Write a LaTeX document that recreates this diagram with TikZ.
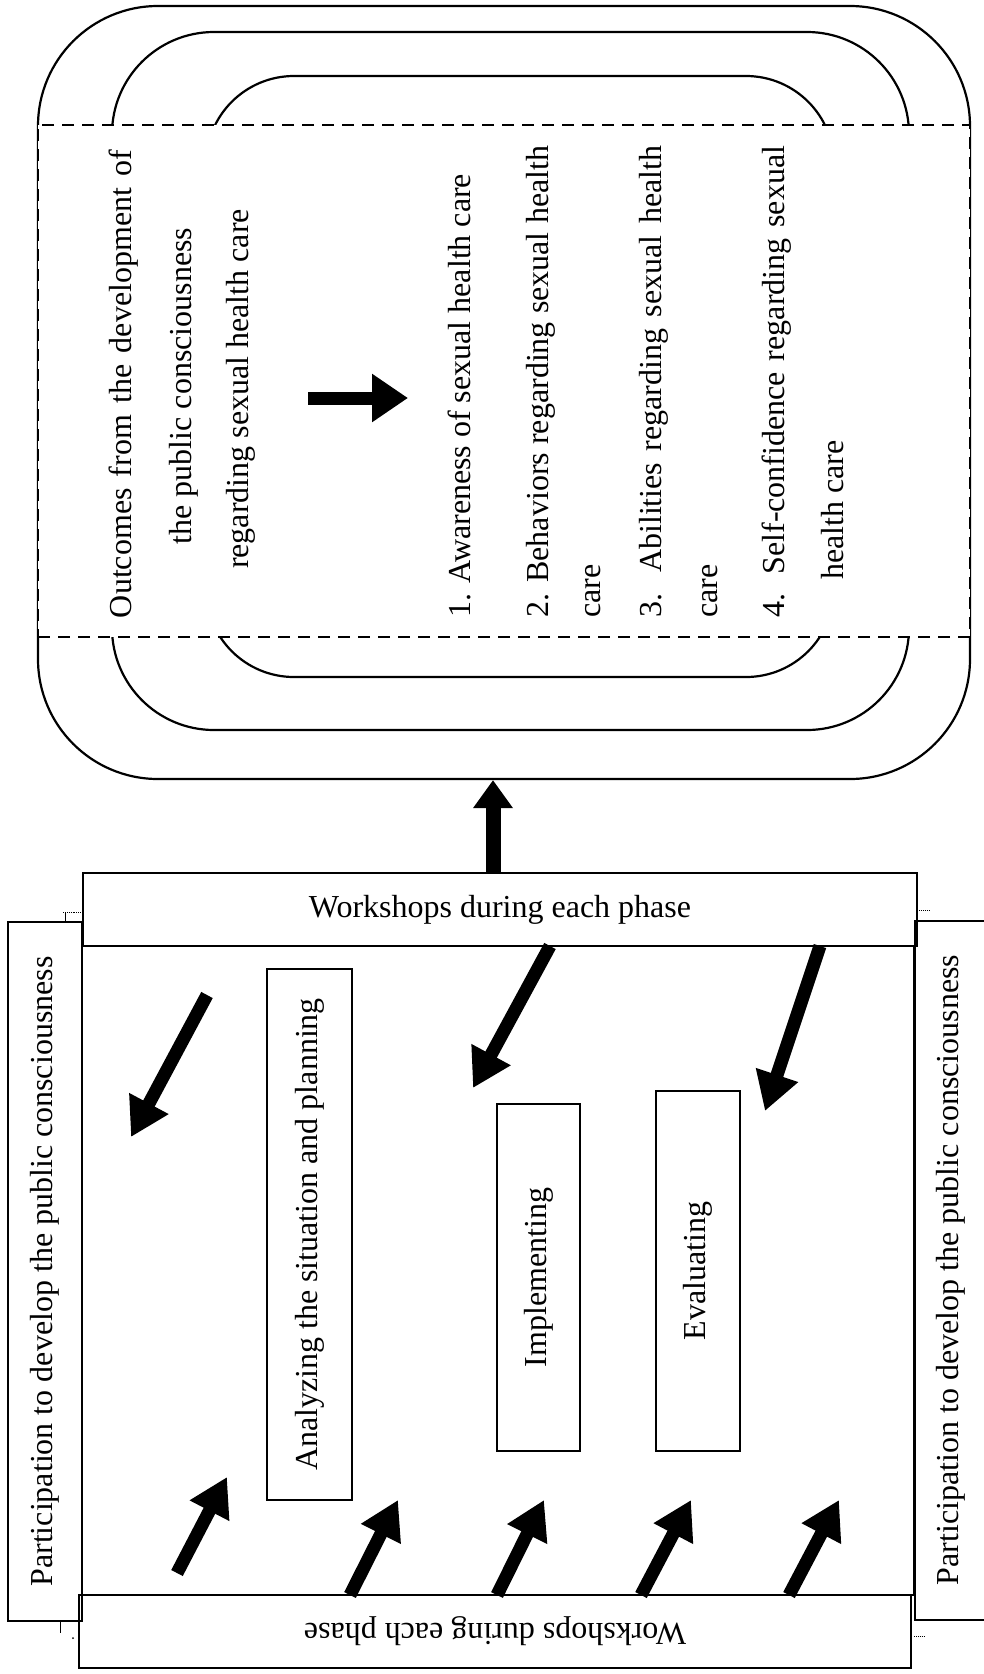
\documentclass[tikz,border=0pt]{standalone}
\usepackage{fontspec}
\setmainfont{Liberation Serif}
\usetikzlibrary{arrows.meta}
\begin{document}
\begin{tikzpicture}[x=1pt,y=-1pt,
  every node/.style={font=\fontsize{32pt}{38pt}\selectfont, inner sep=0pt},
  frame/.style={draw, line width=2.2pt},
  thinline/.style={line width=2.2pt},
  bigarrow/.style={line width=13pt, -{Triangle[length=38pt,width=42pt]}},
  bandstyle/.style={draw, fill=white, line width=2.4pt, dash pattern=on 12pt off 8pt},
  txt/.style={rotate=90, anchor=base},
  item/.style={rotate=90, anchor=base west},
  artifact/.style={line width=0.9pt}
]
\useasboundingbox (0,0) rectangle (984,1674);

% ---------- upper figure: nested rounded rectangles ----------
\node[frame, rounded corners=120pt, minimum width=932pt, minimum height=773pt] (outer) at (504,392.5) {};
\node[frame, rounded corners=102pt, minimum width=797pt, minimum height=698pt] (middle) at (510.5,381) {};
\node[frame, rounded corners=88pt, minimum width=628pt, minimum height=601pt] (inner) at (520,376.5) {};
\node[bandstyle, minimum width=932pt, minimum height=512pt] (band) at (504,381) {};

\node[txt] (o1) at (131,384) {\hbox to 468pt{Outcomes from the development of}};
\node[txt] (o2) at (191,386) {the public consciousness};
\node[txt] (o3) at (248,389) {regarding sexual health care};

\coordinate (ba) at (308,398);
\coordinate (bb) at (408,398);
\draw[line width=13pt, -{Triangle[length=36pt,width=46pt]}] (ba) -- (bb);

\node[item] (l1) at (470,618) {1. Awareness of sexual health care};
\node[item] (l2) at (548,618) {\hbox to 472pt{2. Behaviors regarding sexual health}};
\node[item] (l2b) at (600,618) {care};
\node[item] (l3) at (661,618) {\hbox to 472pt{3. Abilities regarding sexual health}};
\node[item] (l3b) at (717,618) {care};
\node[item] (l4) at (784,618) {\hbox to 472pt{4. Self-confidence regarding sexual}};
\node[item] (l4b) at (843,580) {health care};

% ---------- lower figure ----------
\node[frame, minimum width=832pt, minimum height=649pt] (mainframe) at (498,1270.5) {};
\node[frame, minimum width=834pt, minimum height=73pt] (wtop) at (500,909.5) {Workshops during each phase};
\node[frame, rotate=180, minimum width=832pt, minimum height=73pt] (wbot) at (495,1631.5) {Workshops during each phase};

\node[frame, rotate=90, minimum width=699pt, minimum height=74pt] (pl) at (45,1271.5) {Participation to develop the public consciousness};
\node[rotate=90] (pr) at (951,1270) {Participation to develop the public consciousness};
\coordinate (prt) at (990,921);
\coordinate (prb) at (990,1620);
\draw[thinline] (prt) -| (mainframe.east |- prb) -- (prb);

\node[frame, rotate=90, minimum width=531pt, minimum height=85pt] (ana) at (309.5,1234.5) {Analyzing the situation and planning};
\node[frame, rotate=90, minimum width=347pt, minimum height=83pt] (imp) at (538.5,1277.5) {Implementing};
\node[frame, rotate=90, minimum width=360pt, minimum height=84pt] (eva) at (698,1271) {Evaluating};

% connecting arrow
\coordinate (upx) at (493,0);
\draw[line width=15pt, -{Triangle[length=28pt,width=38pt]}] (upx |- wtop.north) -- (upx |- outer.south);

% arrows inside the frame
\coordinate (d1a) at (207,995);  \coordinate (d1b) at (131,1137);
\coordinate (d2a) at (550,946);  \coordinate (d2b) at (473,1088);
\coordinate (d3a) at (820,946);  \coordinate (d3b) at (765,1111);
\coordinate (u1a) at (177,1573); \coordinate (u1b) at (227,1477);
\coordinate (u2a) at (350,1595); \coordinate (u2b) at (398,1500);
\coordinate (u3a) at (497,1595); \coordinate (u3b) at (544,1500);
\coordinate (u4a) at (641,1595); \coordinate (u4b) at (691,1500);
\coordinate (u5a) at (789,1595); \coordinate (u5b) at (839,1500);
\foreach \a/\b in {d1a/d1b,d2a/d2b,d3a/d3b,u1a/u1b,u2a/u2b,u3a/u3b,u4a/u4b,u5a/u5b}
  \draw[bigarrow] (\a) -- (\b);

% small scan marks
\draw[artifact, densely dotted] (63,912) -- (81,912);
\draw[artifact] (65,912) -- (65,922);
\draw[artifact] (60,1621) -- (60,1633);
\fill (73,1638) circle (1pt);
\draw[artifact, densely dotted] (919,910) -- (930,910);
\draw[artifact, densely dotted] (914,1636) -- (924,1636);
\end{tikzpicture}
\end{document}
